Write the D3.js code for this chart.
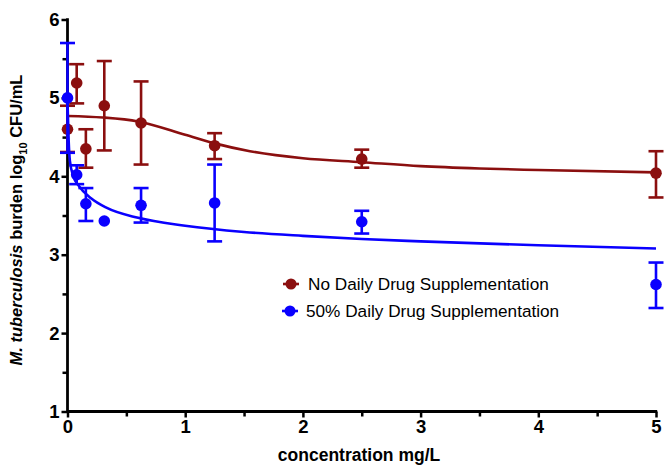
<!DOCTYPE html>
<html><head><meta charset="utf-8">
<script src="https://cdn.jsdelivr.net/npm/d3@7"></script>
<style>
body{margin:0;background:#fff;}
svg{display:block;font-family:"Liberation Sans",Arial,Helvetica,sans-serif;}
</style></head>
<body><svg id="chart" width="664" height="467"></svg>
<script>
const conc = [0, 0.078, 0.156, 0.3125, 0.625, 1.25, 2.5, 5];
const redMean  = [4.60, 5.19, 4.35, 4.90, 4.68, 4.39, 4.22, 4.04];
const redUpper = [4.90, 5.43, 4.60, 5.47, 5.21, 4.55, 4.34, 4.32];
const redLower = [4.31, 4.93, 4.11, 4.33, 4.15, 4.22, 4.11, 3.73];
const blueMean  = [5.00, 4.02, 3.65, 3.43, 3.63, 3.66, 3.42, 2.62];
const blueUpper = [5.70, 4.14, 3.85, null, 3.85, 4.15, 3.56, 2.90];
const blueLower = [4.30, 3.90, 3.43, null, 3.41, 3.17, 3.27, 2.32];
const redCurveX = [0, 0.3, 0.6, 1.0, 1.25, 1.55, 2.0, 2.5, 3.0, 3.5, 4.0, 5.0];
const redCurveY = [4.77, 4.75, 4.70, 4.53, 4.42, 4.32, 4.23, 4.18, 4.13, 4.10, 4.08, 4.05];
const blueCurveX = [0, 0.01, 0.02, 0.05, 0.1, 0.2, 0.33, 0.6, 1.0, 1.5, 2.0, 2.5, 3.0, 4.0, 5.0];
const blueCurveY = [4.95, 4.45, 4.20, 4.00, 3.87, 3.72, 3.60, 3.47, 3.37, 3.29, 3.24, 3.20, 3.17, 3.12, 3.08];
const xTicks = [0, 1, 2, 3, 4, 5];
const yTicks = [1, 2, 3, 4, 5, 6];
const seriesNames = ["No Daily Drug Supplementation", "50% Daily Drug Supplementation"];
const colors = ["#8b0f0f", "#0a00ff"];

const svg = d3.select("#chart");
const x = d3.scaleLinear().domain([0, 5]).range([67.5, 656]);
const y = d3.scaleLinear().domain([1, 6]).range([411.5, 19.5]);

// axes
const xAxis = svg.append("g").attr("transform", `translate(0,${y(1)})`)
  .call(d3.axisBottom(x).tickValues(xTicks).tickFormat(d3.format("d")).tickSize(6).tickPadding(2));
const xMinor = svg.append("g").attr("transform", `translate(0,${y(1)})`)
  .call(d3.axisBottom(x).tickValues(d3.range(0.5, 5, 1)).tickFormat("").tickSize(5));
const yAxis = svg.append("g").attr("transform", `translate(${x(0)},0)`)
  .call(d3.axisLeft(y).tickValues(yTicks).tickFormat(d3.format("d")).tickSize(6).tickPadding(2));
const yMinor = svg.append("g").attr("transform", `translate(${x(0)},0)`)
  .call(d3.axisLeft(y).tickValues(d3.range(1.5, 6, 1)).tickFormat("").tickSize(5));
[xAxis, xMinor, yAxis, yMinor].forEach(g => {
  g.selectAll(".tick line").attr("stroke", "#000").attr("stroke-width", 2.5);
  g.selectAll(".tick text").attr("fill", "#000").attr("font-size", 18.5).attr("font-weight", "bold")
    .attr("font-family", "Liberation Sans, Arial, sans-serif");
  g.select(".domain").remove();
});
svg.append("line").attr("x1", x(0)).attr("x2", x(5) + 1.2).attr("y1", y(1)).attr("y2", y(1))
  .attr("stroke", "#000").attr("stroke-width", 2.8);
svg.append("line").attr("x1", x(0)).attr("x2", x(0)).attr("y1", y(6) - 1.2).attr("y2", y(1) + 1.2)
  .attr("stroke", "#000").attr("stroke-width", 2.8);

// axis titles
svg.append("text").attr("x", 359).attr("y", 461).attr("text-anchor", "middle")
  .attr("font-size", 17.5).attr("font-weight", "bold").text("concentration mg/L");
const yl = svg.append("text").attr("transform", "translate(22,220) rotate(-90)")
  .attr("text-anchor", "middle").attr("font-size", 16.5).attr("font-weight", "bold");
yl.append("tspan").attr("font-style", "italic").text("M. tuberculosis");
yl.append("tspan").text(" burden log");
yl.append("tspan").attr("font-size", 11).attr("dy", 5).text("10");
yl.append("tspan").attr("dy", -5).text(" CFU/mL");

const line = d3.line().x(d => x(d[0])).y(d => y(d[1])).curve(d3.curveMonotoneX);

function drawSeries(mean, upper, lower, cx, cy, color) {
  const g = svg.append("g");
  g.append("path").datum(cx.map((v, i) => [v, cy[i]])).attr("d", line)
    .attr("fill", "none").attr("stroke", color).attr("stroke-width", 2.6);
  const idx = conc.map((c, i) => i).filter(i => upper[i] != null);
  g.selectAll(".eb").data(idx).join("line")
    .attr("x1", i => x(conc[i])).attr("x2", i => x(conc[i]))
    .attr("y1", i => y(upper[i])).attr("y2", i => y(lower[i]))
    .attr("stroke", color).attr("stroke-width", 2.6);
  [upper, lower].forEach(arr => {
    g.selectAll(null).data(idx).join("line")
      .attr("x1", i => x(conc[i]) - 7.5).attr("x2", i => x(conc[i]) + 7.5)
      .attr("y1", i => y(arr[i])).attr("y2", i => y(arr[i]))
      .attr("stroke", color).attr("stroke-width", 2.6);
  });
  g.selectAll("circle").data(conc).join("circle")
    .attr("cx", d => x(d)).attr("cy", (d, i) => y(mean[i])).attr("r", 5.8).attr("fill", color);
}
drawSeries(redMean, redUpper, redLower, redCurveX, redCurveY, colors[0]);
drawSeries(blueMean, blueUpper, blueLower, blueCurveX, blueCurveY, colors[1]);

// legend
const leg = svg.append("g");
seriesNames.forEach((name, i) => {
  const ly = 284 + i * 27;
  const lx = 291 - i;
  leg.append("line").attr("x1", lx - 8).attr("x2", lx + 8).attr("y1", ly).attr("y2", ly)
    .attr("stroke", colors[i]).attr("stroke-width", 2.6);
  leg.append("circle").attr("cx", lx).attr("cy", ly).attr("r", 5.5).attr("fill", colors[i]);
  leg.append("text").attr("x", 308 - i * 2).attr("y", ly + 6).attr("font-size", 17.2)
    .attr("fill", "#000").text(name);
});
</script></body></html>
